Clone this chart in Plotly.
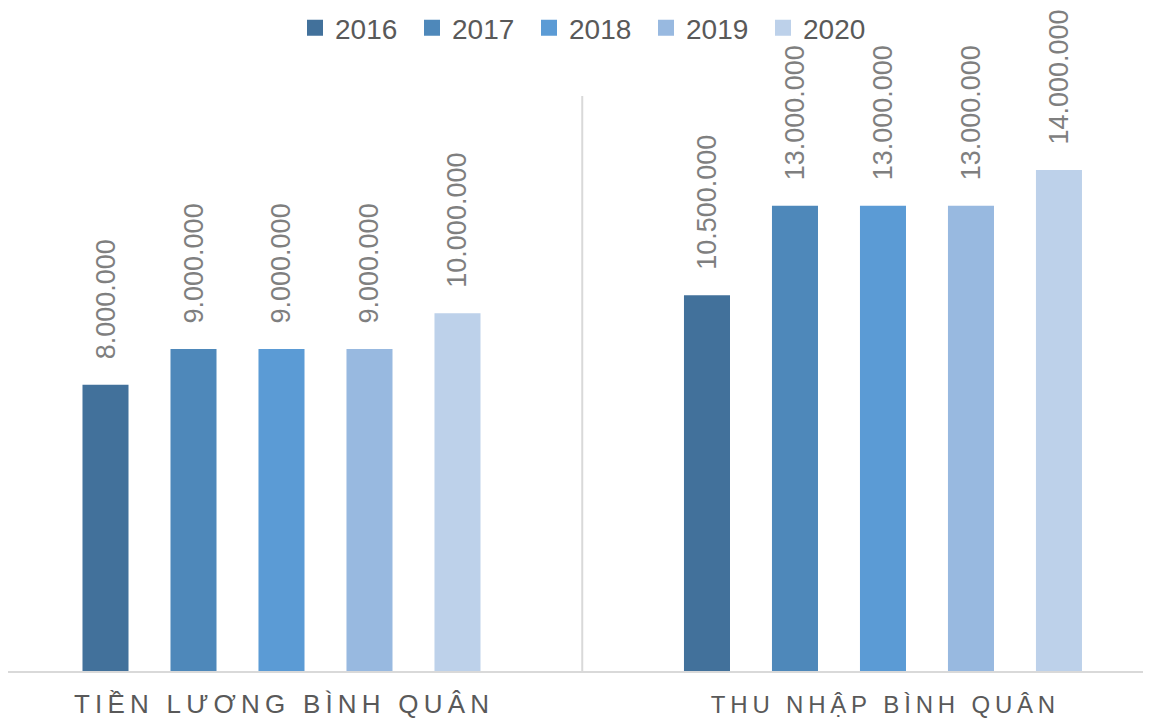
import plotly.graph_objects as go


categories = ["TIỀN LƯƠNG BÌNH QUÂN", "THU NHẬP BÌNH QUÂN"]
years = ["2016", "2017", "2018", "2019", "2020"]
values = {
    "2016": [8000000, 10500000],
    "2017": [9000000, 13000000],
    "2018": [9000000, 13000000],
    "2019": [9000000, 13000000],
    "2020": [10000000, 14000000],
}
colors = ["#42719B", "#4E88BA", "#5B9BD5", "#98B9E0", "#BDD1EA"]
label_sizes = [26, 24]


def fmt(v):
    return f"{v:,}".replace(",", ".")


def spaced(s):
    # Excel draws these labels with letter spacing
    return "\u2009".join(s)


fig = go.Figure()
for year, color in zip(years, colors):
    fig.add_trace(
        go.Bar(
            x=categories,
            y=values[year],
            name=year,
            marker=dict(color=color, line=dict(width=0)),
            text=[fmt(v) for v in values[year]],
            texttemplate="\u00a0\u00a0\u00a0%{text}",
            textposition="outside",
            textangle=-90,
            textfont=dict(family="Liberation Sans", size=27, color="#7F7F7F"),
            constraintext="none",
            cliponaxis=False,
            showlegend=False,
            hoverinfo="x+y+name",
        )
    )
    # legend entry with a bigger square than the bar legend icon
    fig.add_trace(
        go.Scatter(
            x=[None],
            y=[None],
            mode="markers",
            name=year,
            marker=dict(symbol="square", size=16, color=color),
            showlegend=True,
        )
    )

fig.add_shape(
    type="line",
    xref="x",
    yref="paper",
    x0=0.5,
    x1=0.5,
    y0=0,
    y1=1,
    line=dict(color="#D9D9D9", width=2),
)

# the page body adds an 8px margin, so the figure is 8px smaller each way
fig.update_layout(
    template="none",
    width=1143,
    height=712,
    margin=dict(l=0, r=0, t=88, b=49, autoexpand=False),
    paper_bgcolor="white",
    plot_bgcolor="white",
    barmode="group",
    bargap=0.2685,
    bargroupgap=0.477,
    font=dict(family="Liberation Sans", color="#595959"),
    legend=dict(
        orientation="h",
        x=0.507,
        xanchor="center",
        y=1.118,
        yanchor="middle",
        font=dict(size=28, color="#595959"),
        entrywidth=72,
        bgcolor="rgba(0,0,0,0)",
    ),
    xaxis=dict(
        type="category",
        range=[-0.4547, 1.4456],
        tickvals=categories,
        ticktext=[
            f'<span style="font-size:{sz}px">{spaced(c)}</span>'
            for c, sz in zip(categories, label_sizes)
        ],
        tickfont=dict(size=26, color="#595959"),
        ticklabelstandoff=9,
        showline=True,
        linecolor="#D9D9D9",
        linewidth=2,
        ticks="",
        showgrid=False,
        zeroline=False,
        automargin=False,
    ),
    yaxis=dict(
        range=[0, 16070000],
        showticklabels=False,
        showgrid=False,
        zeroline=False,
        showline=False,
        ticks="",
        automargin=False,
    ),
)

fig.write_html("out.html")
